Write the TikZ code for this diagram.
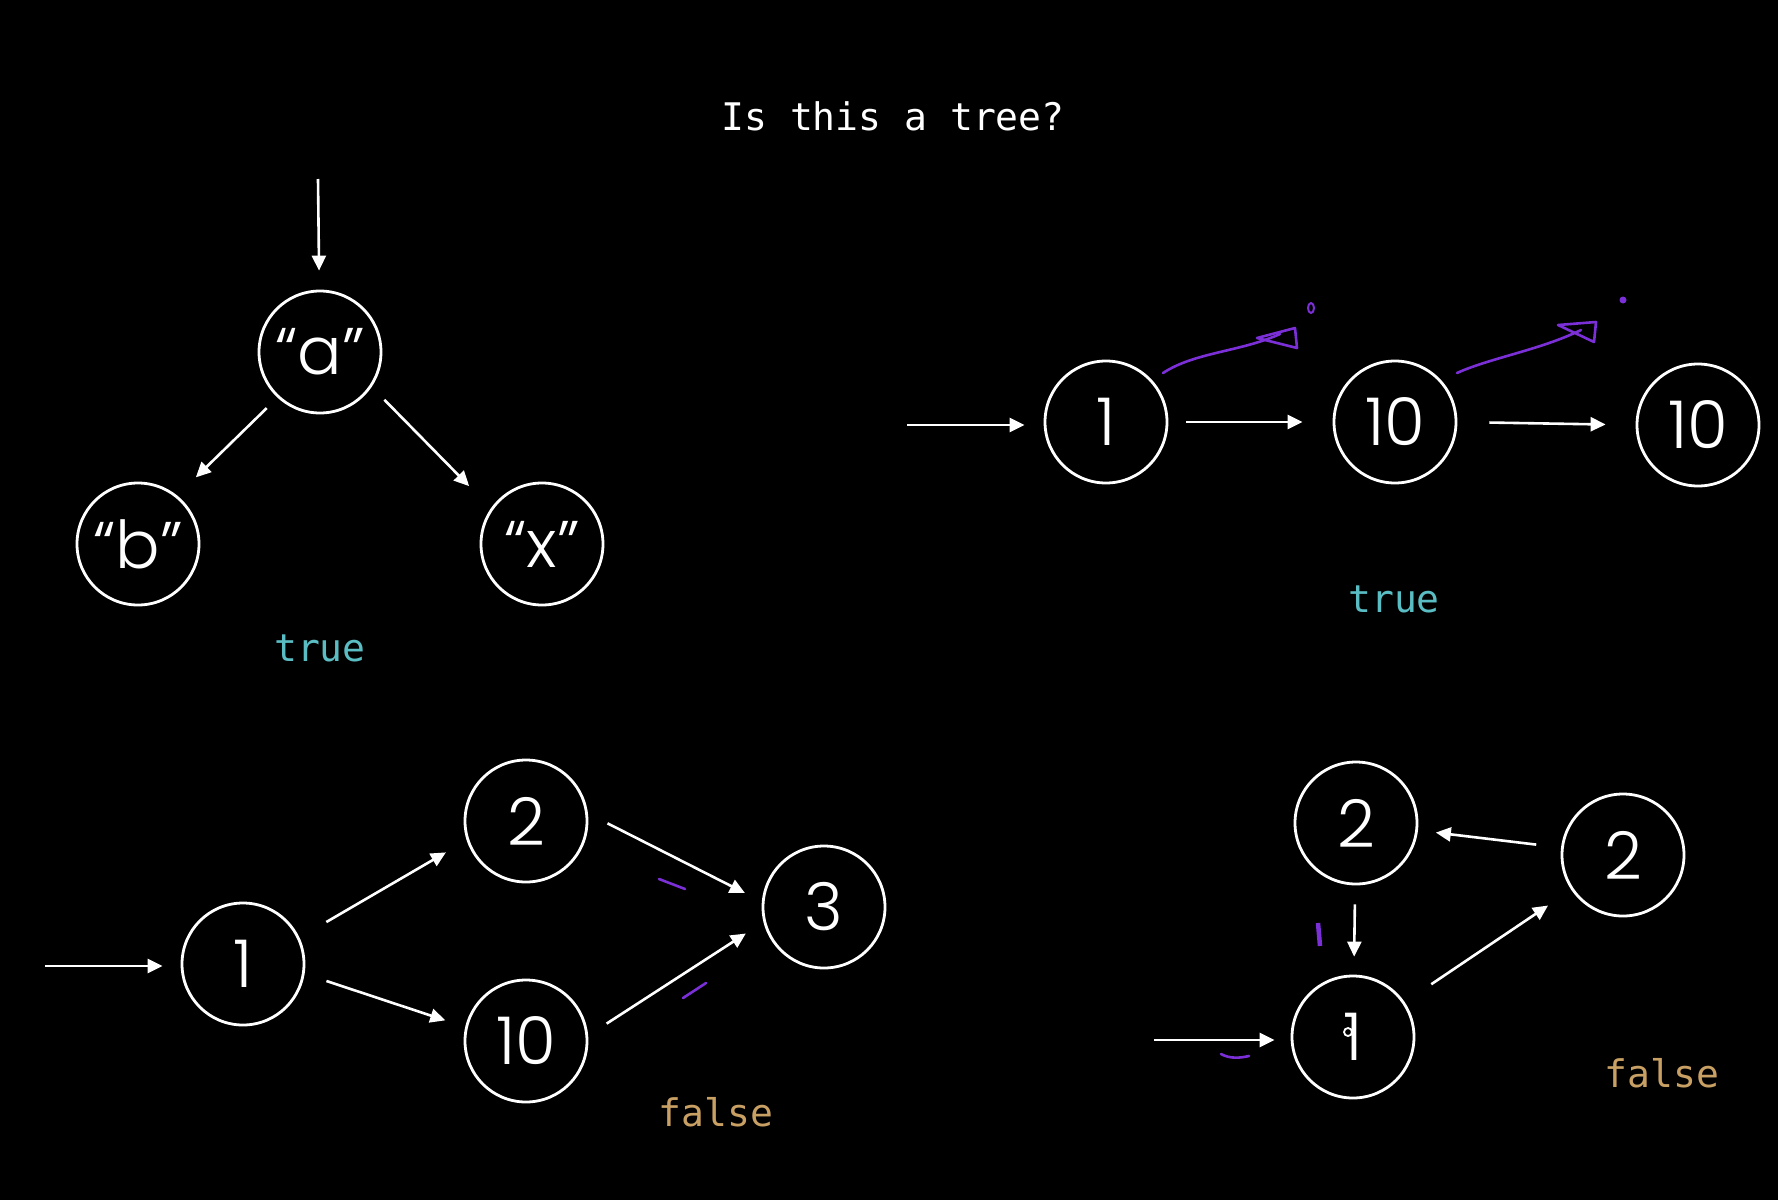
\documentclass[tikz,border=0pt]{standalone}
\usepackage{fontspec}
\newfontfamily\nodefont{Poppins Light}
\newfontfamily\monofont{DejaVu Sans Mono}
\usetikzlibrary{arrows.meta}
\definecolor{tcyan}{HTML}{5BBDC4}
\definecolor{forange}{HTML}{C9A064}
\definecolor{ink}{HTML}{7B2FD6}
\tikzset{
  vert/.style={circle, draw=white, line width=2.8pt, minimum size=122pt, inner sep=0pt,
    text=white, font=\nodefont\fontsize{66pt}{66pt}\selectfont},
  arr/.style={draw=white, line width=2.6pt, -{Triangle[length=15pt,width=14pt]}},
  lbl/.style={font=\monofont\fontsize{38pt}{38pt}\selectfont, inner sep=0pt},
  pen/.style={draw=ink, line width=2.6pt, line cap=round, line join=round},
}
\begin{document}
\begin{tikzpicture}[x=1pt,y=-1pt]
\fill[black] (0,0) rectangle (1778,1200);
\useasboundingbox (0,0) rectangle (1778,1200);

\node[lbl, text=white] (title) at (893,116) {Is this a tree?};

% tree
\coordinate (top) at (318,179);
\node[vert] (a) at (320,352) {“a”};
\node[vert] (b) at (138,544) {“b”};
\node[vert] (x) at (542,544) {“x”};
\draw[arr, shorten >=19pt] (top) -- (a);
\draw[arr, shorten <=15pt, shorten >=26pt] (a.-133.5) -- (b.51);
\draw[arr, shorten <=18pt, shorten >=31pt] (a.-34) -- (x.145);
\node[lbl, text=tcyan] (t1) at (320,648) {true};

% linked list
\coordinate (l0) at (907,425);
\node[vert] (l1) at (1106,422) {1};
\node[vert] (l2) at (1395,422) {10};
\node[vert] (l3) at (1698,425) {10};
\draw[arr, shorten >=19pt] (l0) -- (l0 -| l1.west);
\draw[arr, shorten <=18pt, shorten >=30pt] (l1.east) -- (l2.west);
\draw[arr, shorten <=32pt, shorten >=30pt] (l2.east) -- (l3.west);
\node[lbl, text=tcyan] (t2) at (1394,599) {true};
% annotations
\draw[pen] (1163,373) .. controls (1195,352) and (1240,352) .. (1280,334);
\draw[pen] (1257,338) -- (1295,328) -- (1297,348) -- cycle;
\draw[pen, line width=2pt] (1311,308) ellipse (3pt and 5pt);
\draw[pen] (1457,373) .. controls (1490,358) and (1540,350) .. (1581,330);
\draw[pen] (1558,325) -- (1596,322) -- (1594,342) -- cycle;
\fill[ink] (1623,300) circle (3.5pt);

% DAG
\coordinate (d0) at (45,966);
\node[vert] (d1) at (243,964) {1};
\node[vert] (d2) at (526,821) {2};
\node[vert] (d10) at (526,1041) {10};
\node[vert] (d3) at (824,907) {3};
\draw[arr, shorten >=18pt] (d0) -- (d0 -| d1.west);
\draw[arr, shorten <=31pt, shorten >=24pt] (d1.25) -- (d2.198);
\draw[arr, shorten <=23pt, shorten >=21pt] (d1.-9) -- (d10.167);
\draw[arr, shorten <=22pt, shorten >=19pt] (d2.7) -- (d3.175);
\draw[arr, shorten <=22pt, shorten >=21pt] (d10.5) -- (d3.194);
\node[lbl, text=forange] (f1) at (716,1112) {false};
\draw[pen] (659,879) -- (685,889);
\draw[pen] (683,998) -- (706,983);

% cycle
\coordinate (c0) at (1154,1040);
\node[vert] (c2) at (1356,823) {2};
\node[vert] (c3) at (1623,855) {2};
\node[vert] (c1) at (1353,1037) {1};
\draw[white, line width=1.8pt] (1348,1032) circle (4pt);
\draw[arr, shorten >=16pt] (c0) -- (c0 -| c1.west);
\draw[arr, shorten <=25pt, shorten >=18pt] (c3) -- (c2);
\draw[arr, shorten <=19pt, shorten >=18pt] (c2) -- (c1);
\draw[arr, shorten <=32pt, shorten >=28pt] (c1) -- (c3);
\node[lbl, text=forange] (f2) at (1662,1073) {false};
\draw[pen, line width=4.5pt, line cap=butt] (1318,923) -- (1320,946);
\draw[pen] (1221,1054) .. controls (1230,1059) and (1240,1058) .. (1249,1056);
\end{tikzpicture}
\end{document}
